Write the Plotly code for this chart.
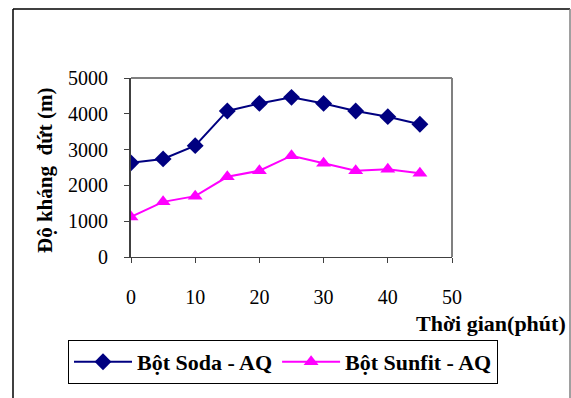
import plotly.graph_objects as go

# Thời gian (phút)
time_min = [0, 5, 10, 15, 20, 25, 30, 35, 40, 45]
# Độ kháng đứt (m)
soda_aq = [2630, 2740, 3110, 4080, 4290, 4460, 4290, 4080, 3920, 3710]
sunfit_aq = [1120, 1540, 1700, 2240, 2410, 2830, 2620, 2410, 2450, 2340]

x_ticks = [0, 10, 20, 30, 40, 50]
y_ticks = [0, 1000, 2000, 3000, 4000, 5000]

W, H = 571, 398
L, R, T, B = 131, 452, 78, 257  # plot area edges in pixels


def px_x(p):
    return (p - L) / (R - L)


def px_y(p):
    return (B - p) / (B - T)


FONT = "Liberation Serif"

fig = go.Figure()
fig.add_trace(go.Scatter(
    x=time_min, y=soda_aq, name="Bột Soda - AQ", mode="lines+markers",
    line=dict(color="#000080", width=2),
    marker=dict(symbol="diamond", size=13, color="#000080"),
))
fig.add_trace(go.Scatter(
    x=time_min, y=sunfit_aq, name="Bột Sunfit - AQ", mode="lines+markers",
    line=dict(color="#FF00FF", width=2),
    marker=dict(symbol="triangle-up", size=13, color="#FF00FF"),
))

fig.update_layout(
    width=W, height=H,
    margin=dict(l=L, r=W - R, t=T, b=H - B),
    paper_bgcolor="white", plot_bgcolor="white",
    font=dict(family=FONT, color="black"),
    showlegend=True,
    legend=dict(
        orientation="h", x=px_x(68), y=px_y(340), xanchor="left", yanchor="top",
        bordercolor="black", borderwidth=1, bgcolor="white",
        font=dict(family=FONT, size=22, weight="bold"),
        itemwidth=58, tracegroupgap=0,
    ),
    xaxis=dict(
        range=[0, 50], tickvals=x_ticks, showgrid=False, zeroline=False,
        showline=True, linecolor="#404040", linewidth=1,
        ticks="outside", ticklen=5, tickcolor="#404040",
        tickfont=dict(family=FONT, size=20), ticklabelstandoff=17,
    ),
    yaxis=dict(
        range=[0, 5000], tickvals=y_ticks, showgrid=False, zeroline=False,
        showline=True, linecolor="#404040", linewidth=2,
        ticks="outside", ticklen=5, tickcolor="#404040",
        tickfont=dict(family=FONT, size=20), ticklabelstandoff=12,
    ),
    shapes=[
        # plot area border on top and right
        dict(type="line", xref="paper", yref="paper", x0=0, x1=1, y0=1, y1=1,
             line=dict(color="#808080", width=2)),
        dict(type="line", xref="paper", yref="paper", x0=1, x1=1, y0=0, y1=1,
             line=dict(color="#808080", width=2)),
        # chart frame
        dict(type="line", xref="paper", yref="paper", x0=px_x(13), x1=px_x(13),
             y0=px_y(9), y1=px_y(400), line=dict(color="black", width=1.5)),
        dict(type="line", xref="paper", yref="paper", x0=px_x(13), x1=px_x(570),
             y0=px_y(9), y1=px_y(9), line=dict(color="black", width=1.5)),
        dict(type="line", xref="paper", yref="paper", x0=px_x(570), x1=px_x(570),
             y0=px_y(9), y1=px_y(400), line=dict(color="#808080", width=1.5)),
    ],
    annotations=[
        dict(text="Độ kháng  đứt (m)", textangle=-90, xref="paper", yref="paper",
             x=px_x(45), y=px_y(171), xanchor="center", yanchor="middle",
             showarrow=False, font=dict(family=FONT, size=21, weight="bold")),
        dict(text="Thời gian(phút)", xref="paper", yref="paper",
             x=px_x(568), y=px_y(323), xanchor="right", yanchor="middle",
             showarrow=False, font=dict(family=FONT, size=22, weight="bold")),
    ],
)

fig.write_html("out.html")
